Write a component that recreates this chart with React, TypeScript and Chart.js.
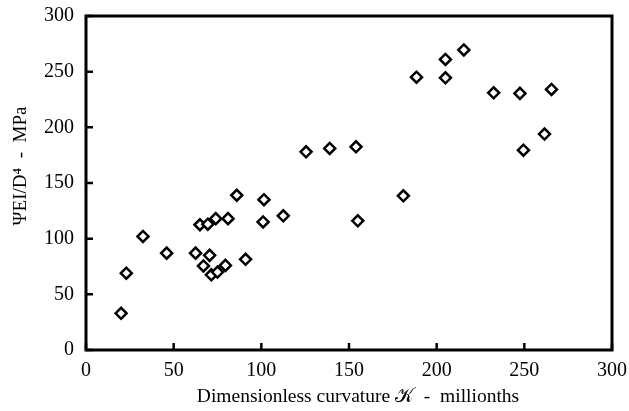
import React, { useEffect, useRef } from "react";
import Chart from "chart.js/auto";

const curvature: number[] = [20, 23, 32.5, 46, 62.5, 65, 67, 69.5, 70.5, 71.5, 74, 75, 79.5, 81, 86, 91, 101, 101.5, 112.5, 125.5, 139, 154, 155, 181, 188.5, 205, 205, 215.5, 232.5, 247.5, 249.5, 261.5, 265.5];
const stiffness: number[] = [33, 69, 102, 87, 87, 112.5, 75.5, 113, 85, 67.5, 118, 70, 76, 118, 139, 81.5, 115, 135, 120.5, 178, 181, 182.5, 116, 138.5, 245, 261, 244.5, 269.5, 231, 230.5, 179.5, 194, 234];
const xTicks: number[] = [0, 50, 100, 150, 200, 250, 300];
const yTicks: number[] = [0, 50, 100, 150, 200, 250, 300];
const xTitle = "Dimensionless curvature \u{1D4A6}  -  millionths";
const yTitle = "\u03A8EI/D\u2074  -  MPa";

export default function App() {
  const ref = useRef<HTMLCanvasElement | null>(null);
  useEffect(() => {
    document.body.style.margin = "0";
    const canvas = ref.current!;
    const fontFamily = "'Liberation Serif', 'Times New Roman', serif";
    const frame = {
      id: "frame",
      afterDraw(chart: any) {
        const ctx = chart.ctx;
        const a = chart.chartArea;
        const xs = chart.scales.x;
        const ys = chart.scales.y;
        ctx.save();
        ctx.strokeStyle = "#000";
        ctx.lineWidth = 3;
        ctx.strokeRect(a.left, a.top, a.right - a.left, a.bottom - a.top);
        ctx.lineWidth = 2.5;
        ctx.beginPath();
        xTicks.forEach((v) => {
          const px = xs.getPixelForValue(v);
          ctx.moveTo(px, a.bottom);
          ctx.lineTo(px, a.bottom - 7);
        });
        yTicks.forEach((v) => {
          const py = ys.getPixelForValue(v);
          ctx.moveTo(a.left, py);
          ctx.lineTo(a.left + 7, py);
        });
        ctx.stroke();
        ctx.fillStyle = "#000";
        ctx.font = `19.5px ${fontFamily}`;
        ctx.textAlign = "center";
        ctx.textBaseline = "middle";
        ctx.fillText(xTitle, 358, 397);
        ctx.font = `19px ${fontFamily}`;
        ctx.translate(21, 166);
        ctx.rotate(-Math.PI / 2);
        ctx.fillText(yTitle, 0, 0);
        ctx.restore();
      },
    };
    const chart = new Chart(canvas, {
      type: "scatter",
      data: {
        datasets: [
          {
            data: curvature.map((x, i) => ({ x, y: stiffness[i] })),
            pointStyle: "rectRot",
            pointRadius: 5.5,
            pointHoverRadius: 5.5,
            borderColor: "#000",
            backgroundColor: "#fff",
            borderWidth: 2.5,
          },
        ],
      },
      options: {
        responsive: false,
        animation: false,
        layout: { padding: { top: 16, right: 17, left: 0, bottom: 0 } },
        plugins: { legend: { display: false }, tooltip: { enabled: false } },
        scales: {
          x: {
            type: "linear",
            min: 0,
            max: 300,
            afterFit: (s: any) => { s.height = 61; s.paddingLeft = 0; s.paddingRight = 0; },
            afterBuildTicks: (s: any) => { s.ticks = xTicks.map((v) => ({ value: v })); },
            grid: { display: false, drawTicks: false },
            border: { display: false },
            ticks: { color: "#000", padding: 9, font: { family: fontFamily, size: 20 } },
          },
          y: {
            type: "linear",
            min: 0,
            max: 300,
            afterFit: (s: any) => { s.width = 86; s.paddingTop = 0; s.paddingBottom = 0; },
            afterBuildTicks: (s: any) => { s.ticks = yTicks.map((v) => ({ value: v })); },
            grid: { display: false, drawTicks: false },
            border: { display: false },
            ticks: { color: "#000", padding: 12, font: { family: fontFamily, size: 20 } },
          },
        },
      },
      plugins: [frame],
    });
    return () => chart.destroy();
  }, []);
  return (
    <div style={{ width: 629, height: 411 }}>
      <canvas ref={ref} width={629} height={411} style={{ width: 629, height: 411, display: "block" }} />
    </div>
  );
}
